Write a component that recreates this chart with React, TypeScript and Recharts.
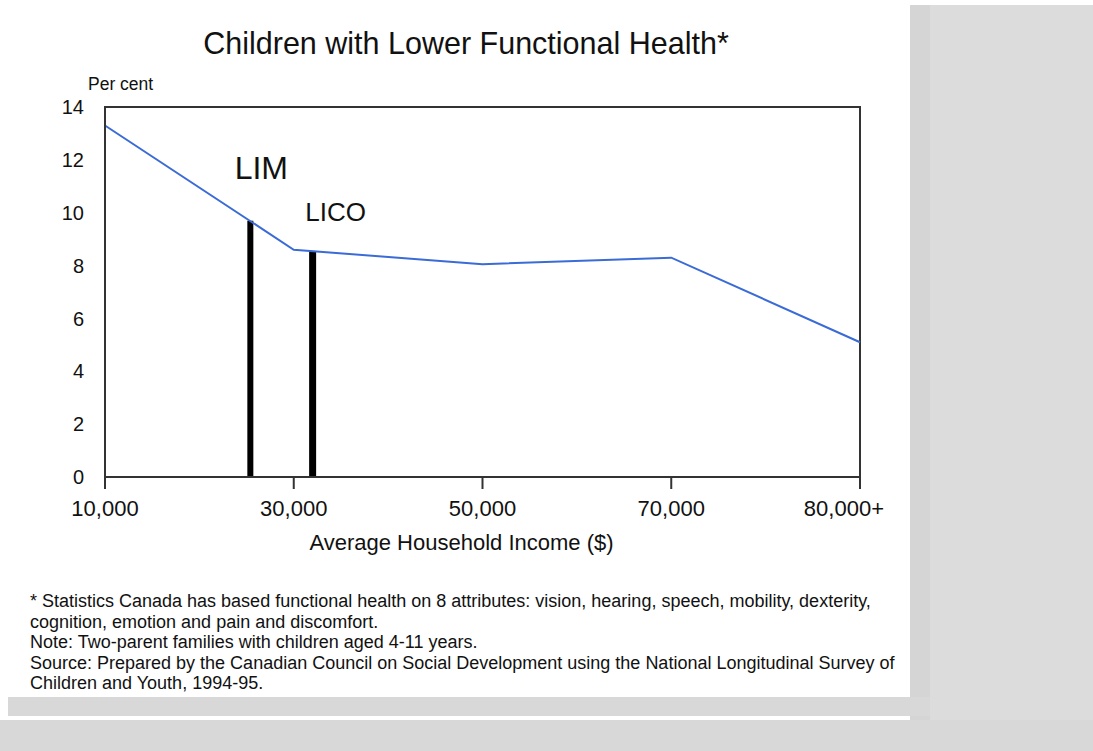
import { LineChart, Line, XAxis, YAxis, ReferenceLine, ReferenceArea } from "recharts";

// x positions are evenly spaced; the open-ended "80,000+" group sits one step past 70,000
const incomePoints = [10000, 30000, 50000, 70000, 90000];
const incomeLabels = ["10,000", "30,000", "50,000", "70,000", "80,000+"];
const percentLowerHealth = [13.3, 8.6, 8.05, 8.3, 5.1];
const yTicks = [0, 2, 4, 6, 8, 10, 12, 14];

// poverty lines
const cutoffNames = ["LIM", "LICO"];
const cutoffIncome = [25400, 32000];
const cutoffHeight = [9.7, 8.55];

const footnotes = [
  "* Statistics Canada has based functional health on 8 attributes: vision, hearing, speech, mobility, dexterity,",
  "cognition, emotion and pain and discomfort.",
  "Note: Two-parent families with children aged 4-11 years.",
  "Source: Prepared by the Canadian Council on Social Development using the National Longitudinal Survey of",
  "Children and Youth, 1994-95.",
];

const data = incomePoints.map((income, i) => ({ income, pct: percentLowerHealth[i] }));

const FONT = '"Liberation Sans", Arial, sans-serif';
const FRAME = "#333";

function IncomeTick({ x, y, payload, index }: any) {
  const last = index === incomePoints.length - 1;
  const label = incomeLabels[incomePoints.indexOf(payload.value)];
  return (
    <text
      x={last ? x + 24 : x}
      y={y + 27}
      textAnchor={last ? "end" : "middle"}
      fontSize={22}
      fontFamily={FONT}
      fill="#111"
    >
      {label}
    </text>
  );
}

function cutoffLabel(name: string, size: number, dx: number, dy: number) {
  return (props: any) => {
    const vb = props.viewBox || {};
    return (
      <text x={vb.x + dx} y={vb.y - dy} textAnchor="middle" fontSize={size} fontFamily={FONT} fill="#111">
        {name}
      </text>
    );
  };
}

function AxisTitle(props: any) {
  const vb = props.viewBox || {};
  return (
    <text x={vb.x + vb.width / 2 - 21} y={vb.y + 73} textAnchor="middle" fontSize={22} fontFamily={FONT} fill="#111">
      Average Household Income ($)
    </text>
  );
}

export default function App() {
  return (
    <div style={{ position: "absolute", left: 0, top: 0, width: 1093, height: 751, background: "#fff", fontFamily: FONT, overflow: "hidden" }}>
      {/* grey page chrome */}
      <div style={{ position: "absolute", left: 910, top: 5, width: 20, height: 746, background: "#d5d5d5" }} />
      <div style={{ position: "absolute", left: 930, top: 5, width: 163, height: 746, background: "#dcdcdc" }} />
      <div style={{ position: "absolute", left: 8, top: 697, width: 922, height: 19, background: "#d8d8d8" }} />
      <div style={{ position: "absolute", left: 0, top: 720, width: 1093, height: 31, background: "#d8d8d8" }} />

      <div style={{ position: "absolute", left: 0, top: 26, width: 932, textAlign: "center", fontSize: 30.5, color: "#111", whiteSpace: "nowrap" }}>
        Children with Lower Functional Health*
      </div>
      <div style={{ position: "absolute", left: 88, top: 74, fontSize: 17.5, color: "#111", whiteSpace: "nowrap" }}>Per cent</div>

      <div style={{ position: "absolute", left: 0, top: 0 }}>
        <LineChart width={910} height={700} data={data} margin={{ top: 107, right: 50, bottom: 143, left: 65 }}>
          <XAxis
            dataKey="income"
            type="number"
            domain={[10000, 90000]}
            ticks={incomePoints}
            interval={0}
            tick={<IncomeTick />}
            tickSize={12}
            tickMargin={0}
            height={80}
            axisLine={{ stroke: FRAME, strokeWidth: 2 }}
            tickLine={{ stroke: FRAME, strokeWidth: 2 }}
            label={<AxisTitle />}
          />
          <YAxis
            type="number"
            domain={[0, 14]}
            ticks={yTicks}
            width={40}
            tickLine={false}
            tickMargin={15}
            tick={{ fontSize: 20, fontFamily: FONT, fill: "#111" }}
            axisLine={{ stroke: FRAME, strokeWidth: 2 }}
          />

          <ReferenceArea x1={10000} x2={90000} y1={0} y2={14} fill="none" stroke={FRAME} strokeWidth={2} />

          {cutoffNames.map((name, i) => (
            <ReferenceLine
              key={name}
              segment={[{ x: cutoffIncome[i], y: 0 }, { x: cutoffIncome[i], y: cutoffHeight[i] }]}
              stroke="#000"
              strokeWidth={i === 0 ? 6 : 7}
              label={i === 0 ? cutoffLabel(name, 32, 11, 42) : cutoffLabel(name, 26, 23, 30)}
            />
          ))}

          <Line dataKey="pct" stroke="#3a6bd6" strokeWidth={2} dot={false} isAnimationActive={false} />
        </LineChart>
      </div>

      <div style={{ position: "absolute", left: 30, top: 591, fontSize: 18, lineHeight: "20.5px", color: "#111", whiteSpace: "nowrap" }}>
        {footnotes.map((t) => (
          <div key={t}>{t}</div>
        ))}
      </div>
    </div>
  );
}
